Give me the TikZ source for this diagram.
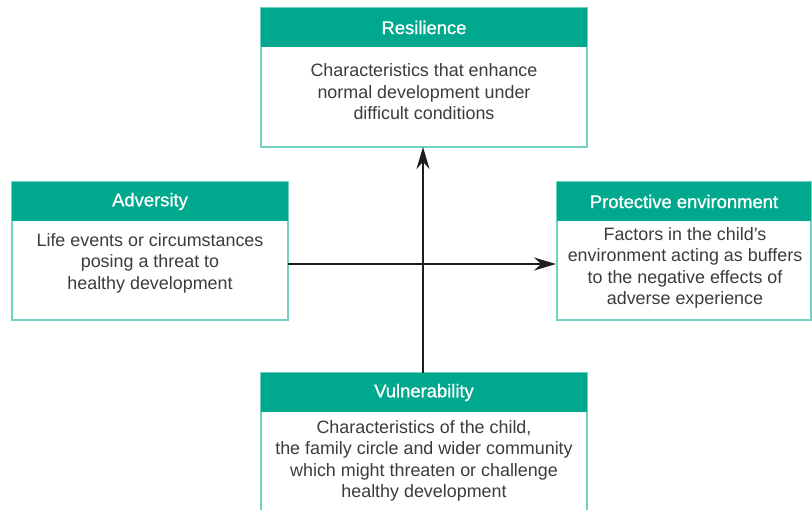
\documentclass[tikz,border=0pt]{standalone}
\usepackage{fontspec}
\setmainfont{Liberation Sans}
\newfontfamily\headfont{Liberation Sans}[BoldFont={Liberation Sans},BoldFeatures={FakeBold=0.9}]
\usetikzlibrary{arrows.meta}
\definecolor{teal1}{RGB}{0,168,142}
\definecolor{tealb}{RGB}{112,210,192}
\definecolor{txt}{RGB}{60,60,60}
\definecolor{arr}{RGB}{30,30,30}
\tikzset{
  bodybox/.style={draw=tealb, line width=2pt, fill=white, inner sep=0pt, outer sep=0pt, anchor=north west},
  headbox/.style={fill=teal1, text=white, inner sep=0pt, outer sep=0pt, anchor=north west, minimum height=39pt, font=\headfont\bfseries\fontsize{18.4}{21}\selectfont},
  bodytext/.style={text=txt, align=center, inner sep=0pt, font=\fontsize{17.9}{21.5}\selectfont},
  conn/.style={draw=arr, line width=2pt, -{Stealth[length=22pt,width=13pt]}}
}
\begin{document}
\begin{tikzpicture}[x=1pt,y=-1pt]
\clip (0,0) rectangle (812,510);
\fill[white] (0,0) rectangle (812,510);
% Resilience
\node[bodybox, minimum width=326pt, minimum height=139pt] (resB) at (261,8) {};
\node[headbox, minimum width=326pt] (resH) at (261,8) {Resilience};
\node[bodytext] (resT) at (424,92) {Characteristics that enhance\\normal development under\\difficult conditions};
% Adversity
\node[bodybox, minimum width=276pt, minimum height=138pt] (advB) at (12,182) {};
\node[headbox, minimum width=276pt] (advH) at (12,182) {Adversity};
\node[bodytext] (advT) at (150,263) {Life events or circumstances\\posing a threat to\\healthy development};
% Protective environment
\node[bodybox, minimum width=254pt, minimum height=138pt] (proB) at (557,182) {};
\node[headbox, minimum width=254pt] (proH) at (557,182) {Protective environment};
\node[bodytext] (proT) at (685,268) {Factors in the child's\\environment acting as buffers\\to the negative effects of\\adverse experience};
% Vulnerability
\node[bodybox, minimum width=326pt, minimum height=180pt] (vulB) at (261,373) {};
\node[headbox, minimum width=326pt] (vulH) at (261,373) {Vulnerability};
\node[bodytext] (vulT) at (424,461) {Characteristics of the child,\\the family circle and wider community\\which might threaten or challenge\\healthy development};
% connectors
\coordinate (cross) at (423,264);
\draw[conn] (vulH.north -| cross) -- (resB.south -| cross);
\draw[conn] (advB.east |- cross) -- ([xshift=-1pt]proB.west |- cross);
\end{tikzpicture}
\end{document}
